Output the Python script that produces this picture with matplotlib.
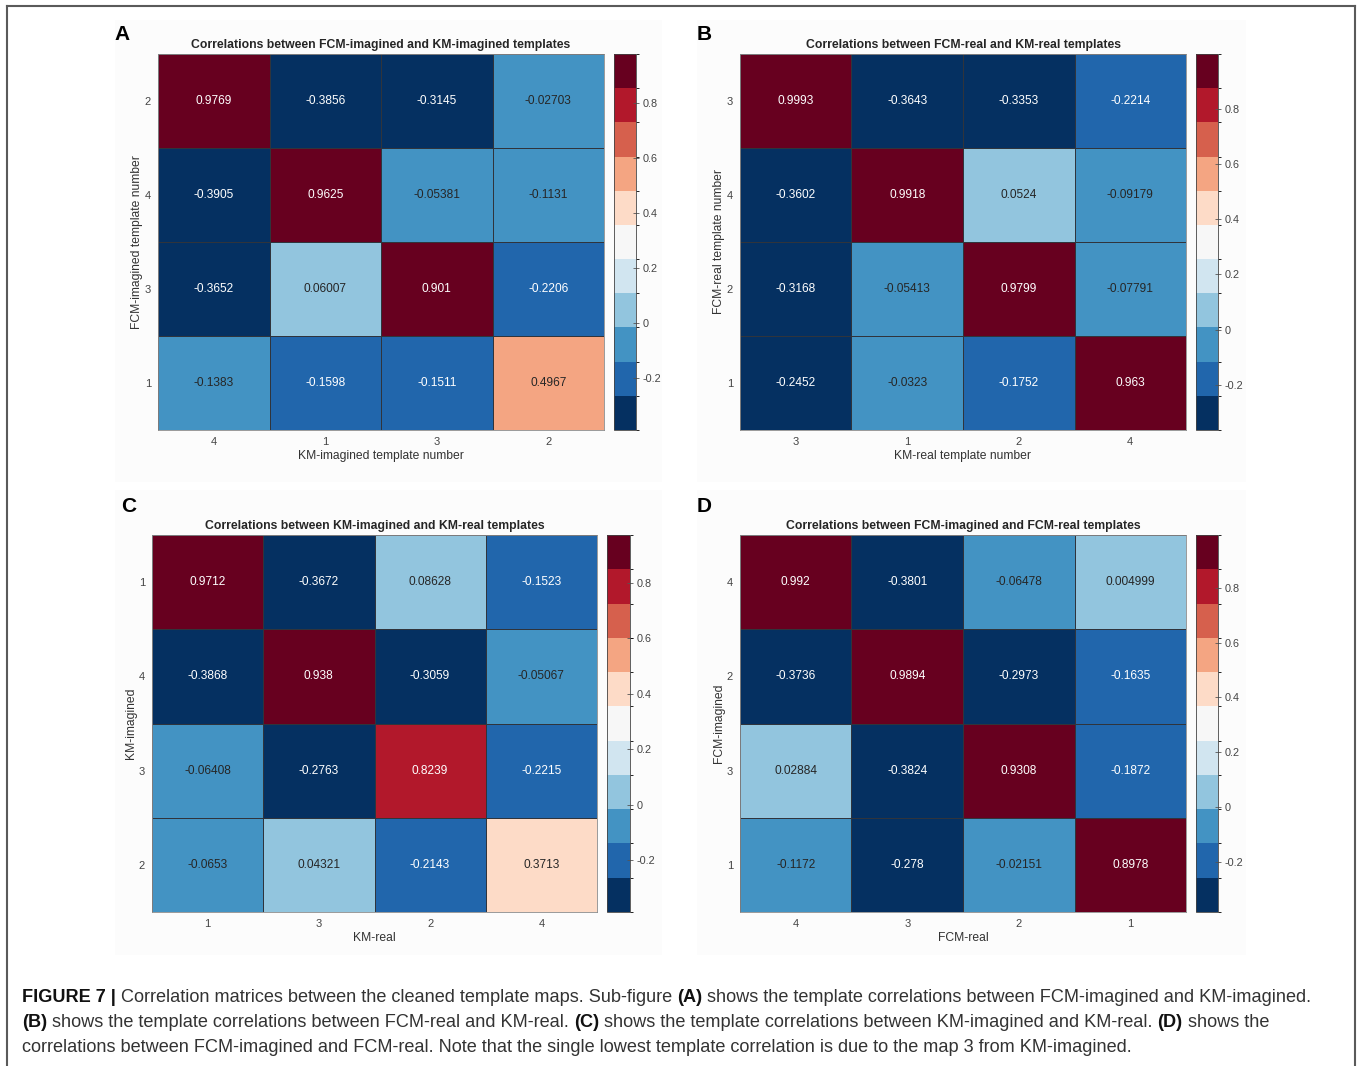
import matplotlib
matplotlib.use('Agg')
import matplotlib.pyplot as plt
import numpy as np
from matplotlib.colors import ListedColormap, BoundaryNorm
from matplotlib.patches import Rectangle
from matplotlib.lines import Line2D

plt.rcParams['font.family'] = ['Liberation Sans', 'DejaVu Sans']

# 11-step diverging map (blue = negative, red = positive)
rdbu_11 = ['#053061', '#2166ac', '#4393c3', '#92c5de', '#d1e5f0', '#f7f7f7',
           '#fddbc7', '#f4a582', '#d6604d', '#b2182b', '#67001f']
cmap = ListedColormap(rdbu_11)

# A: FCM-imagined (rows) vs KM-imagined (columns)
a_rows = ['2', '4', '3', '1']
a_cols = ['4', '1', '3', '2']
a_corr = [[0.9769, -0.3856, -0.3145, -0.02703],
          [-0.3905, 0.9625, -0.05381, -0.1131],
          [-0.3652, 0.06007, 0.901, -0.2206],
          [-0.1383, -0.1598, -0.1511, 0.4967]]

# B: FCM-real (rows) vs KM-real (columns)
b_rows = ['3', '4', '2', '1']
b_cols = ['3', '1', '2', '4']
b_corr = [[0.9993, -0.3643, -0.3353, -0.2214],
          [-0.3602, 0.9918, 0.0524, -0.09179],
          [-0.3168, -0.05413, 0.9799, -0.07791],
          [-0.2452, -0.0323, -0.1752, 0.963]]

# C: KM-imagined (rows) vs KM-real (columns)
c_rows = ['1', '4', '3', '2']
c_cols = ['1', '3', '2', '4']
c_corr = [[0.9712, -0.3672, 0.08628, -0.1523],
          [-0.3868, 0.938, -0.3059, -0.05067],
          [-0.06408, -0.2763, 0.8239, -0.2215],
          [-0.0653, 0.04321, -0.2143, 0.3713]]

# D: FCM-imagined (rows) vs FCM-real (columns)
d_rows = ['4', '2', '3', '1']
d_cols = ['4', '3', '2', '1']
d_corr = [[0.992, -0.3801, -0.06478, 0.004999],
          [-0.3736, 0.9894, -0.2973, -0.1635],
          [0.02884, -0.3824, 0.9308, -0.1872],
          [-0.1172, -0.278, -0.02151, 0.8978]]

cbar_ticks = [-0.2, 0, 0.2, 0.4, 0.6, 0.8]
cbar_labels = ['-0.2', '0', '0.2', '0.4', '0.6', '0.8']

W, H = 1360, 1066
fig = plt.figure(figsize=(W / 100, H / 100), dpi=100)


def px_box(x0, y0, x1, y1):
    # pixel box (top-left origin) -> figure fraction rect
    return [x0 / W, 1 - y1 / H, (x1 - x0) / W, (y1 - y0) / H]


def draw_heatmap(box, cbox, corr, rows, cols, title, xlabel, ylabel):
    corr = np.array(corr)
    ax = fig.add_axes(px_box(*box))
    cax = fig.add_axes(px_box(*cbox))
    norm = BoundaryNorm(np.linspace(corr.min(), corr.max(), 12), cmap.N)
    mesh = ax.pcolormesh(corr, cmap=cmap, norm=norm, edgecolors='#30343c', linewidth=0.5)
    ax.set_xlim(0, corr.shape[1])
    ax.set_ylim(corr.shape[0], 0)
    ax.set_xticks(np.arange(corr.shape[1]) + 0.5, cols)
    ax.set_yticks(np.arange(corr.shape[0]) + 0.5, rows)
    ax.tick_params(length=0, labelsize=8, labelcolor='#444444', pad=5)
    for s in ax.spines.values():
        s.set_color('#8a8a8a')
        s.set_linewidth(0.6)
    for i in range(corr.shape[0]):
        for j in range(corr.shape[1]):
            v = corr[i, j]
            r, g, b, _ = cmap(norm(v))
            lum = 0.299 * r + 0.587 * g + 0.114 * b
            ax.text(j + 0.5, i + 0.5, f'{v:.4g}', ha='center', va='center',
                    fontsize=8.6, color='#262626' if lum > 0.45 else 'white')
    ax.set_title(title, fontsize=8.8, fontweight='bold', color='#262626', pad=4)
    ax.set_xlabel(xlabel, fontsize=8.7, color='#333333', labelpad=2)
    ax.set_ylabel(ylabel, fontsize=8.7, color='#333333', labelpad=1)

    cb = fig.colorbar(mesh, cax=cax)
    cb.set_ticks(cbar_ticks, labels=cbar_labels)
    cb.ax.tick_params(labelsize=7.8, labelcolor='#444444', direction='inout',
                      length=4, width=0.6, color='#555555', pad=3)
    cb.outline.set_edgecolor('#444444')
    cb.outline.set_linewidth(0.6)
    return ax


# faint panel backgrounds, kept behind the axes
for bx in [(115, 20, 662, 482), (697, 20, 1246, 482), (115, 490, 662, 955), (697, 490, 1246, 955)]:
    fig.patches.append(Rectangle((bx[0] / W, 1 - bx[3] / H), (bx[2] - bx[0]) / W, (bx[3] - bx[1]) / H,
                                 transform=fig.transFigure, facecolor='#fcfcfc', edgecolor='none', zorder=-5))

draw_heatmap((158, 54, 604, 430), (614, 54, 636, 430), a_corr, a_rows, a_cols,
             'Correlations between FCM-imagined and KM-imagined templates',
             'KM-imagined template number', 'FCM-imagined template number')
draw_heatmap((740, 54, 1186, 430), (1196, 54, 1218, 430), b_corr, b_rows, b_cols,
             'Correlations between FCM-real and KM-real templates',
             'KM-real template number', 'FCM-real template number')
draw_heatmap((152, 535, 597, 912), (607, 535, 630, 912), c_corr, c_rows, c_cols,
             'Correlations between KM-imagined and KM-real templates',
             'KM-real', 'KM-imagined')
draw_heatmap((740, 535, 1186, 912), (1196, 535, 1218, 912), d_corr, d_rows, d_cols,
             'Correlations between FCM-imagined and FCM-real templates',
             'FCM-real', 'FCM-imagined')

# panel letters
for letter, (x, y) in zip('ABCD', [(122, 34), (704, 34), (129, 507), (704, 507)]):
    fig.text(x / W, 1 - y / H, letter, fontsize=15, fontweight='bold', ha='center', va='center')

# outer frame (open at the bottom)
frame = dict(color='#5a5a5a', linewidth=1.5, transform=fig.transFigure)
fig.lines.append(Line2D([7 / W, 7 / W], [0, 1 - 6 / H], **frame))
fig.lines.append(Line2D([7 / W, 1355 / W], [1 - 6 / H, 1 - 6 / H], **frame))
fig.lines.append(Line2D([1355 / W, 1355 / W], [0, 1 - 6 / H], **frame))

# caption with bold runs
caption = [
    [('FIGURE 7 |', True), (' Correlation matrices between the cleaned template maps. Sub-figure ', False),
     ('(A)', True), (' shows the template correlations between FCM-imagined and KM-imagined.', False)],
    [('(B)', True), (' shows the template correlations between FCM-real and KM-real. ', False),
     ('(C)', True), (' shows the template correlations between KM-imagined and KM-real. ', False),
     ('(D)', True), (' shows the', False)],
    [('correlations between FCM-imagined and FCM-real. Note that the single lowest template '
      'correlation is due to the map 3 from KM-imagined.', False)],
]
cap_size = 13.05
renderer = fig.canvas.get_renderer()


def text_width(s, bold):
    t = fig.text(0, 0, s, fontsize=cap_size, fontweight='bold' if bold else 'normal')
    w = t.get_window_extent(renderer).width
    t.remove()
    return w


space_w = text_width('x x', False) - text_width('xx', False)
for line, y in zip(caption, [1002, 1027, 1052]):
    x = 22
    for s, bold in line:
        x += (len(s) - len(s.lstrip())) * space_w
        core = s.strip()
        fig.text(x / W, 1 - y / H, core, fontsize=cap_size, fontweight='bold' if bold else 'normal',
                 color='#111111' if bold else '#333333', ha='left', va='baseline')
        x += text_width(core, bold)
        x += (len(s) - len(s.rstrip())) * space_w

fig.savefig('out.png', dpi=100)
